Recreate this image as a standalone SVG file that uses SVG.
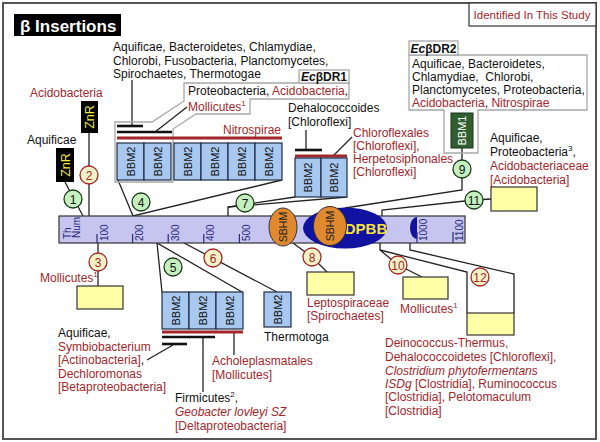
<svg xmlns="http://www.w3.org/2000/svg" width="600" height="442" viewBox="0 0 600 442">
<style>
text{font-family:"Liberation Sans",Arial,sans-serif;font-size:12px;fill:#111}
.r{fill:#a3262a}
.i{font-style:italic}
.ln{stroke:#222;stroke-width:1.3;fill:none}
.blk{stroke:#111;stroke-width:2.6}
.red{stroke:#a3262a;stroke-width:3}
.bbm{fill:#a8c8f0;stroke:#1e2a44;stroke-width:1.2}
.bbt{font-size:11px;text-anchor:middle}
.yb{fill:#ffffa6;stroke:#333;stroke-width:1.2}
.cg{fill:#c6efc0;stroke:#1a3a1a;stroke-width:1.3}
.cr{fill:#f2f2c6;stroke:#a3262a;stroke-width:1.3}
.cn{text-anchor:middle}
.gray{fill:none;stroke:#a8a8a8;stroke-width:1.3}
.tick{stroke:#2a2a7a;stroke-width:1.2}
.tn{font-size:10px;fill:#2a2a7a}
.sb{fill:#e0892e;stroke:#333;stroke-width:1}
.sbt{font-size:10.5px;text-anchor:middle;fill:#222}
.znr{fill:#000}
.znt{font-size:12.5px;text-anchor:middle;fill:#f0e84a}
</style>
<rect x="3" y="3" width="593" height="436" fill="#fff" stroke="#555" stroke-width="2"/>

<g id="title">
<rect x="14" y="14" width="107" height="22" fill="#000"/>
<text x="20" y="32" style="font-size:17px;font-weight:bold;fill:#fff">β Insertions</text>
</g>
<g id="legend">
<rect x="469" y="3" width="127" height="23" fill="#fff" stroke="#333" stroke-width="1.2"/>
<text x="532" y="19" class="r cn" style="font-size:11.5px">Identified In This Study</text>
</g>

<g id="connectors">
<polyline class="ln" points="65,182 83,216"/>
<polyline class="ln" points="89,133 89,216"/>
<polyline class="ln" points="98,243 98,286"/>
<polyline class="ln" points="118,180 133,216 282,180"/>
<polyline class="ln" points="162,292 157,243 242,292"/>
<polyline class="ln" points="184,243 277,292"/>
<polyline class="ln" points="228,216 228,207 295,197"/>
<polyline class="ln" points="228,207 347,197"/>
<polyline class="ln" points="293,243 312,257 327,272"/>
<polyline class="ln" points="345,208 462,190 462,148"/>
<polyline class="ln" points="382,216 382,210 474,200 491,199"/>
<polyline class="ln" points="380,243 380,250 398,265 422,277"/>
<polyline class="ln" points="380,250 467,272 467,313"/>
<polyline class="ln" points="410,243 410,250 514,274 514,313"/>
<line class="ln" x1="132" y1="126" x2="132" y2="80"/>
<line class="ln" x1="155" y1="132" x2="187" y2="107"/>
<line class="ln" x1="306" y1="150" x2="306" y2="130"/>
<line class="ln" x1="333" y1="156" x2="352" y2="137"/>
<line class="ln" x1="173" y1="345" x2="147" y2="360"/>
<line class="ln" x1="203" y1="337" x2="203" y2="392"/>
<line class="ln" x1="234" y1="332" x2="234" y2="355"/>
</g>

<g id="bar">
<rect x="59" y="216" width="406" height="27" fill="#c5c5f0" stroke="#333" stroke-width="1.2"/>
<text transform="translate(71,239) rotate(-90)" class="tn">Th</text>
<text transform="translate(80,238) rotate(-90)" class="tn">Num</text>
<line class="tick" x1="97" y1="234" x2="97" y2="243"/><text transform="translate(107.5,241) rotate(-90)" class="tn">100</text>
<line class="tick" x1="132.6" y1="234" x2="132.6" y2="243"/><text transform="translate(143,241) rotate(-90)" class="tn">200</text>
<line class="tick" x1="168.2" y1="234" x2="168.2" y2="243"/><text transform="translate(178.6,241) rotate(-90)" class="tn">300</text>
<line class="tick" x1="203.8" y1="234" x2="203.8" y2="243"/><text transform="translate(214.2,241) rotate(-90)" class="tn">400</text>
<line class="tick" x1="239.4" y1="234" x2="239.4" y2="243"/><text transform="translate(249.8,241) rotate(-90)" class="tn">500</text>
<path d="M417,217 A7,11 0 0 0 417,239 Z" fill="#1212a0"/>
<line class="tick" x1="417" y1="232" x2="417" y2="243"/><text transform="translate(427.4,241) rotate(-90)" class="tn">1000</text>
<line class="tick" x1="453" y1="232" x2="453" y2="243"/><text transform="translate(463.4,241) rotate(-90)" class="tn">1100</text>
</g>

<g id="domains">
<ellipse cx="345" cy="228" rx="42" ry="20.5" fill="#1212a0"/>
<text x="366" y="234" style="font-size:15px;font-weight:bold;fill:#f2e33a;text-anchor:middle">DPBB</text>
<ellipse class="sb" cx="283" cy="227" rx="14" ry="19"/>
<text transform="translate(287,227) rotate(-90)" class="sbt">SBHM</text>
<ellipse class="sb" cx="330" cy="226" rx="16.5" ry="19.5"/>
<text transform="translate(334,226) rotate(-90)" class="sbt">SBHM</text>
</g>

<g id="n1">
<rect class="znr" x="56" y="148" width="18" height="34"/>
<text transform="translate(69.5,165) rotate(-90)" class="znt">ZnR</text>
<text x="27" y="144">Aquificae</text>
<circle class="cg" cx="73" cy="199" r="9"/><text x="73" y="203.5" class="cn">1</text>
</g>
<g id="n2">
<rect class="znr" x="81" y="101" width="17" height="32"/>
<text transform="translate(94,117) rotate(-90)" class="znt">ZnR</text>
<text x="30" y="97" class="r">Acidobacteria</text>
<circle class="cr" cx="89" cy="175" r="9"/><text x="89" y="179.5" class="cn r">2</text>
</g>
<g id="n3">
<rect class="yb" x="77" y="286" width="46" height="23"/>
<text x="40" y="282" class="r">Mollicutes<tspan dy="-5" style="font-size:8px">1</tspan></text>
<circle class="cr" cx="98" cy="262" r="9"/><text x="98" y="266.5" class="cn r">3</text>
</g>
<g id="n4">
<polygon class="gray" points="115,182 115,122 152,122 184,101 184,83 349,83 349,99 250,99 250,114 196,114 173,129 173,182"/>
<rect x="299" y="70" width="50" height="13" fill="#fff" stroke="#a8a8a8" stroke-width="1.3"/>
<text x="324" y="81" class="cn" style="font-weight:bold"><tspan class="i">Ec</tspan>βDR1</text>
<text x="113" y="51">Aquificae, Bacteroidetes, Chlamydiae,</text>
<text x="113" y="65">Chlorobi, Fusobacteria, Planctomycetes,</text>
<text x="113" y="78">Spirochaetes, Thermotogae</text>
<text x="188" y="95">Proteobacteria, <tspan class="r">Acidobacteria</tspan>,</text>
<text x="188" y="111" class="r">Mollicutes<tspan dy="-5" style="font-size:8px">1</tspan></text>
<line class="blk" x1="117" y1="126" x2="143" y2="126"/>
<line class="blk" x1="117" y1="132" x2="172" y2="132"/>
<line class="red" x1="117" y1="138" x2="282" y2="138"/>
<text x="281" y="134" class="r" style="text-anchor:end">Nitrospirae</text>
<rect class="bbm" x="117" y="143" width="27" height="37"/><text transform="translate(134.5,161.5) rotate(-90)" class="bbt">BBM2</text>
<rect class="bbm" x="144" y="143" width="27" height="37"/><text transform="translate(161.5,161.5) rotate(-90)" class="bbt">BBM2</text>
<rect class="bbm" x="174" y="143" width="27" height="37"/><text transform="translate(191.5,161.5) rotate(-90)" class="bbt">BBM2</text>
<rect class="bbm" x="201" y="143" width="27" height="37"/><text transform="translate(218.5,161.5) rotate(-90)" class="bbt">BBM2</text>
<rect class="bbm" x="228" y="143" width="27" height="37"/><text transform="translate(245.5,161.5) rotate(-90)" class="bbt">BBM2</text>
<rect class="bbm" x="255" y="143" width="27" height="37"/><text transform="translate(272.5,161.5) rotate(-90)" class="bbt">BBM2</text>
<circle class="cg" cx="141" cy="202" r="9"/><text x="141" y="206.5" class="cn">4</text>
</g>
<g id="n5">
<rect class="bbm" x="162" y="292" width="27" height="37"/><text transform="translate(179.5,310.5) rotate(-90)" class="bbt">BBM2</text>
<rect class="bbm" x="189" y="292" width="27" height="37"/><text transform="translate(206.5,310.5) rotate(-90)" class="bbt">BBM2</text>
<rect class="bbm" x="216" y="292" width="27" height="37"/><text transform="translate(233.5,310.5) rotate(-90)" class="bbt">BBM2</text>
<line class="red" x1="162" y1="332" x2="243" y2="332"/>
<line class="blk" x1="162" y1="337" x2="215" y2="337"/>
<line class="blk" x1="162" y1="344" x2="187" y2="344"/>
<text x="58" y="337">Aquificae,</text>
<text x="58" y="351" class="r">Symbiobacterium</text>
<text x="58" y="364" class="r">[Actinobacteria]<tspan style="fill:#111">,</tspan></text>
<text x="58" y="378" class="r">Dechloromonas</text>
<text x="58" y="391" class="r">[Betaproteobacteria]</text>
<text x="175" y="402">Firmicutes<tspan dy="-5" style="font-size:8px">2</tspan><tspan dy="5">,</tspan></text>
<text x="175" y="416" class="r i">Geobacter lovleyi SZ</text>
<text x="175" y="430" class="r">[Deltaproteobacteria]</text>
<text x="212" y="365" class="r">Acholeplasmatales</text>
<text x="212" y="379" class="r">[Mollicutes]</text>
<circle class="cg" cx="173" cy="267" r="9"/><text x="173" y="271.5" class="cn">5</text>
</g>
<g id="n6">
<rect class="bbm" x="264" y="292" width="27" height="35"/><text transform="translate(281.5,309.5) rotate(-90)" class="bbt">BBM2</text>
<text x="264" y="341">Thermotoga</text>
<circle class="cr" cx="213" cy="258" r="9"/><text x="213" y="262.5" class="cn r">6</text>
</g>
<g id="n7">
<line class="blk" x1="295" y1="150" x2="322" y2="150"/>
<line class="red" x1="295" y1="156" x2="347" y2="156"/>
<rect class="bbm" x="295" y="158" width="26" height="39"/><text transform="translate(312,177.5) rotate(-90)" class="bbt">BBM2</text>
<rect class="bbm" x="321" y="158" width="26" height="39"/><text transform="translate(338,177.5) rotate(-90)" class="bbt">BBM2</text>
<text x="288" y="112">Dehalococcoides</text>
<text x="288" y="126">[Chloroflexi]</text>
<text x="353" y="137" class="r">Chloroflexales</text>
<text x="353" y="150" class="r">[Chloroflexi],</text>
<text x="353" y="163" class="r">Herpetosiphonales</text>
<text x="353" y="176" class="r">[Chloroflexi]</text>
<circle class="cg" cx="245" cy="203" r="9"/><text x="245" y="207.5" class="cn">7</text>
</g>
<g id="n8">
<rect class="yb" x="307" y="272" width="47" height="23"/>
<text x="307" y="307" class="r">Leptospiraceae</text>
<text x="307" y="320" class="r">[Spirochaetes]</text>
<circle class="cr" cx="312" cy="257" r="9"/><text x="312" y="261.5" class="cn r">8</text>
</g>
<g id="n9">
<polygon class="gray" points="409,55 587,55 587,110 478,110 478,153 444,153 444,110 409,110"/>
<rect x="409" y="41" width="49" height="14" fill="#fff" stroke="#a8a8a8" stroke-width="1.3"/>
<text x="433.5" y="52.5" class="cn" style="font-weight:bold"><tspan class="i">Ec</tspan>βDR2</text>
<text x="412" y="68">Aquificae, Bacteroidetes,</text>
<text x="412" y="81">Chlamydiae,&#160; Chlorobi,</text>
<text x="412" y="94">Planctomycetes, Proteobacteria,</text>
<text x="412" y="107"><tspan class="r">Acidobacteria</tspan>, <tspan class="r">Nitrospirae</tspan></text>
<rect x="451" y="113" width="22" height="35" fill="#2f5f2f" stroke="#1a331a" stroke-width="1"/>
<text transform="translate(466,130.5) rotate(-90)" class="bbt" style="fill:#fff">BBM1</text>
<circle class="cg" cx="462" cy="169" r="9"/><text x="462" y="173.5" class="cn">9</text>
</g>
<g id="n10">
<rect class="yb" x="403" y="277" width="45" height="22"/>
<text x="400" y="313" class="r">Mollicutes<tspan dy="-5" style="font-size:8px">1</tspan></text>
<circle class="cr" cx="398" cy="265" r="9"/><text x="398" y="269.5" class="cn r">10</text>
</g>
<g id="n11">
<rect class="yb" x="491" y="187" width="46" height="24"/>
<text x="490" y="142">Aquificae,</text>
<text x="490" y="156">Proteobacteria<tspan dy="-5" style="font-size:8px">3</tspan><tspan dy="5">,</tspan></text>
<text x="490" y="170" class="r">Acidobacteriaceae</text>
<text x="490" y="184" class="r">[Acidobacteria]</text>
<circle class="cg" cx="474" cy="200" r="9"/><text x="474" y="204.5" class="cn">11</text>
</g>
<g id="n12">
<rect class="yb" x="467" y="313" width="47" height="22"/>
<text x="385" y="347" class="r">Deinococcus-Thermus,</text>
<text x="385" y="361" class="r">Dehalococcoidetes [Chloroflexi],</text>
<text x="385" y="375" class="r i">Clostridium phytofermentans</text>
<text x="385" y="388" class="r"><tspan class="i">ISDg</tspan> [Clostridia], Ruminococcus</text>
<text x="385" y="401" class="r">[Clostridia], Pelotomaculum</text>
<text x="385" y="415" class="r">[Clostridia]</text>
<circle class="cr" cx="480" cy="277" r="9"/><text x="480" y="281.5" class="cn r">12</text>
</g>
</svg>
